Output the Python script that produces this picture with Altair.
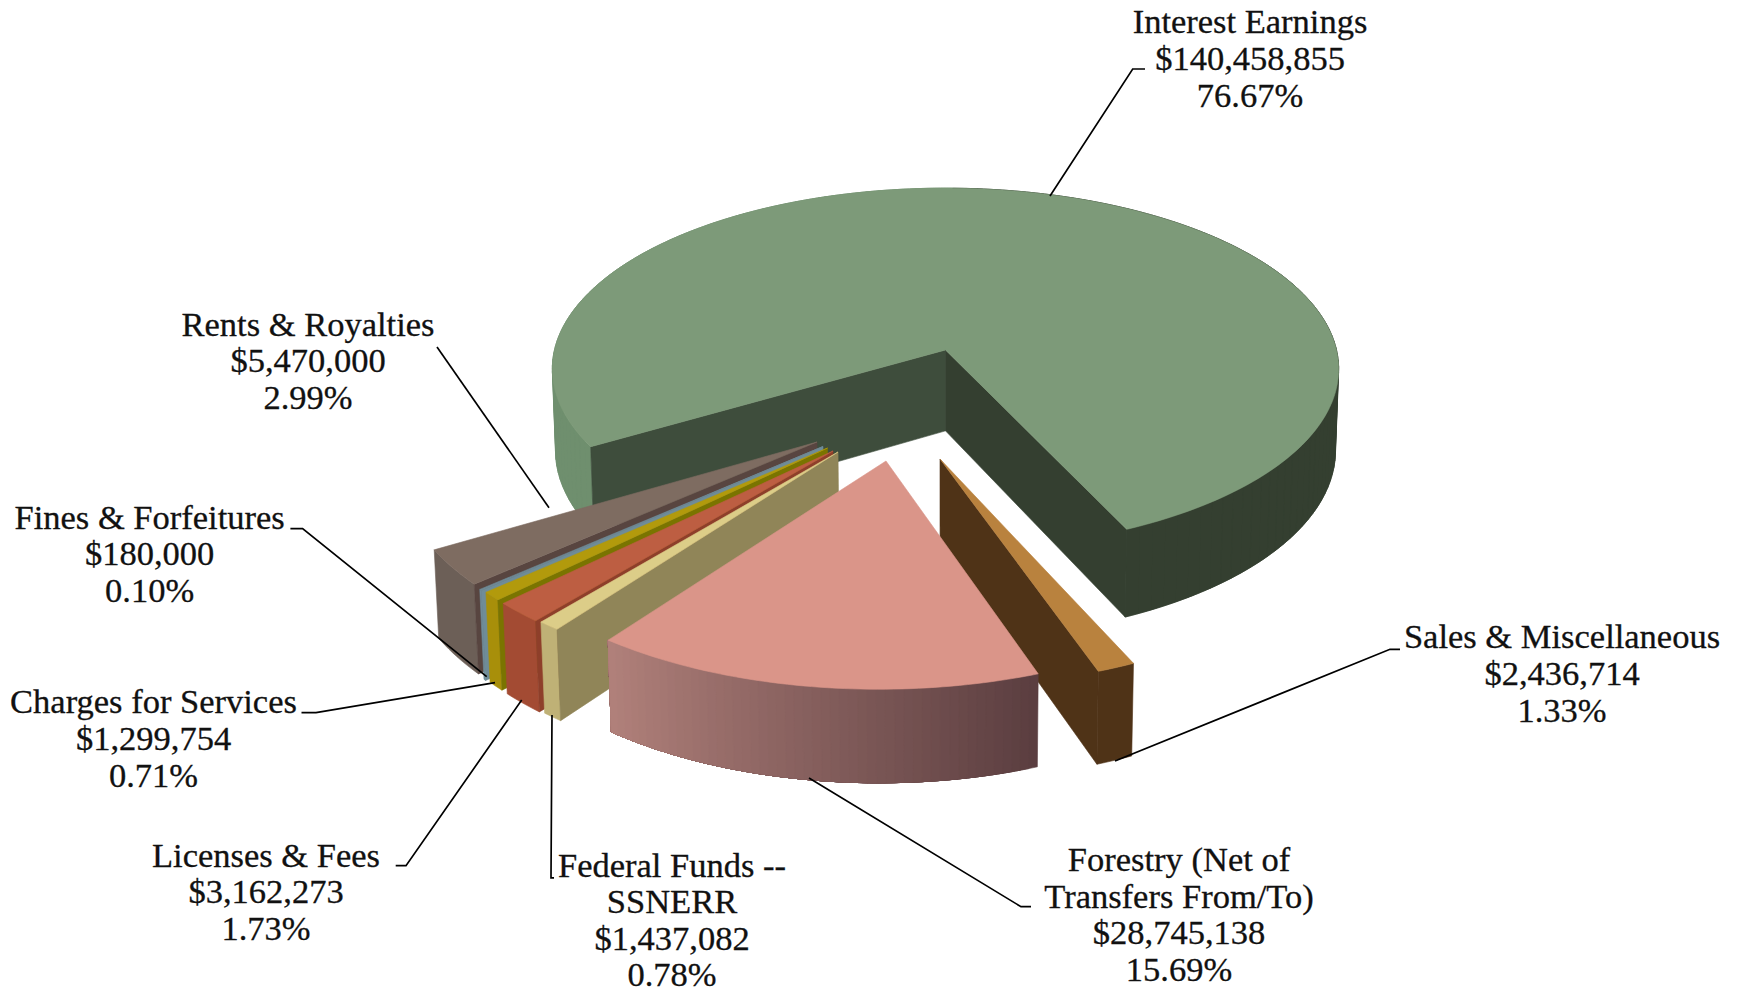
import math
import altair as alt

# ---- data ----
names = ["Interest Earnings", "Sales & Miscellaneous", "Forestry (Net of|Transfers From/To)",
         "Federal Funds --|SSNERR", "Licenses & Fees", "Charges for Services",
         "Fines & Forfeitures", "Rents & Royalties"]
amounts = [140458855, 2436714, 28745138, 1437082, 3162273, 1299754, 180000, 5470000]
percents = [76.67, 1.33, 15.69, 0.78, 1.73, 0.71, 0.10, 2.99]

top_colors = ["#7D9A79", "#B9823E", "#DA9589", "#DCCD88", "#BD5E42", "#B29A0C", "#6F8A96", "#7E6C61"]
side_colors = ["#3E4D3C", "#4F3317", "#6B4A48", "#908558", "#8E3F2A", "#7A7400", "#6F8C98", "#584540"]
outer_colors = ["#343F30", "#4F3317", "#8C6560", "#BFB176", "#A34B33", "#A88F0A", "#6F8C98", "#6C5F57"]

# where the tip of each exploded slice sits on the page
tips = [(945.5, 350), (940, 459), (886, 461), (838, 452), (833, 451), (827.5, 448), (823, 446.5), (817, 442)]
draw_order = [0, 7, 6, 5, 4, 3, 1, 2]

# label anchors: centre x and the baseline of the first line, then line pitch
label_x = [1250, 1562, 1179, 672, 266, 153.5, 149.6, 308]
label_y = [33.3, 648.3, 871, 876.6, 866.7, 713.3, 528.7, 335.7]
line_pitch = 36.6

leaders = [
    [(1145, 69), (1132.7, 69), (1050, 196)],
    [(1400, 649.3), (1390, 649.3), (1115, 761)],
    [(1031, 906.7), (1021, 906.7), (809, 778)],
    [(554, 877.8), (551, 877.8), (552, 715)],
    [(395.7, 865.7), (406, 865.7), (521.7, 700)],
    [(301.5, 712.7), (316, 712.7), (495, 682.7)],
    [(290.4, 528.7), (302.6, 528.7), (486.7, 676.7)],
    [(437, 347), (549, 507.7)],
]

# ---- perspective camera for the 3D pie ----
CX, CY, R, K, P = 945.5, 350.0, 391.0, 178.8, 0.1047
Q, H = 0.008, 81.5
END_FIRST = 24.8  # degrees from the front, where the first slice ends


def project(X, Y, Z=0.0):
    w = 1 - P * Y + Q * Z
    return [CX + R * X / w, CY + (K * Y + H * Z) / w]


def unproject(sx, sy):
    d = K + P * (sy - CY)
    return (sx - CX) * K / (R * d), (sy - CY) / d


def arc(off, a, b, Z, n):
    pts = []
    for i in range(n + 1):
        t = math.radians(a + (b - a) * i / n)
        pts.append(project(off[0] + math.sin(t), off[1] + math.cos(t), Z))
    return pts


features = []


def add(poly, color):
    ring = [list(p) for p in poly]
    ring.append(list(ring[0]))
    features.append({"type": "Feature", "properties": {"fill": color},
                     "geometry": {"type": "Polygon", "coordinates": [ring]}})


def mix(c1, c2, t):
    a = [int(c1[i:i + 2], 16) for i in (1, 3, 5)]
    b = [int(c2[i:i + 2], 16) for i in (1, 3, 5)]
    return "#%02X%02X%02X" % tuple(round(x + (y - x) * t) for x, y in zip(a, b))


# slice angles follow from the percentages, clockwise
angles = []
start = END_FIRST + percents[0] * 3.6
for pct in percents:
    angles.append((start, start - pct * 3.6))
    start -= pct * 3.6

for idx in draw_order:
    a, b = angles[idx]
    off = unproject(*tips[idx])
    steps = max(4, int(abs(a - b)))
    ta, tb = arc(off, a, b, 0, steps), arc(off, a, b, 1, steps)
    apex_t, apex_b = project(off[0], off[1], 0), project(off[0], off[1], 1)
    # rim: overlapping strips so that no seam shows
    if idx == 0:
        for i in range(0, steps, 2):
            end = min(i + 4, steps)
            col = "#6F8F6E" if a + (b - a) * i / steps > 180 else outer_colors[0]
            add(ta[i:end + 1] + tb[i:end + 1][::-1], col)
    elif idx == 2:
        bands = 50
        tg, bg = arc(off, a, b, 0, bands), arc(off, a, b, 1, bands)
        for i in range(bands):
            col = mix("#5B3E40", "#B0807A", i / (bands - 1))
            add(tg[i:] + bg[i:][::-1], col)
    else:
        add(ta + tb[::-1], outer_colors[idx])
    # cut walls, only those that face the viewer
    if -math.sin(math.radians(a)) > 0:
        add([apex_t, ta[0], tb[0], apex_b], side_colors[idx])
    if math.sin(math.radians(b)) > 0:
        add([apex_t, ta[-1], tb[-1], apex_b], side_colors[idx] if idx else outer_colors[0])
    # lid
    add([apex_t] + ta, top_colors[idx])

# ---- labels and leader lines ----
text_rows = []
for i, nm in enumerate(names):
    lines = nm.split("|") + ["${:,}".format(amounts[i]), "{:.2f}%".format(percents[i])]
    for j, ln in enumerate(lines):
        text_rows.append({"x": label_x[i], "y": label_y[i] + j * line_pitch, "t": ln})

leader_rows = []
for i, pl in enumerate(leaders):
    for j, (x, y) in enumerate(pl):
        leader_rows.append({"id": i, "o": j, "x": x, "y": y})

W, H_PAGE = 1722, 982
xs = alt.Scale(domain=[8, 8 + W], nice=False, zero=False)
ys = alt.Scale(domain=[8 + H_PAGE, 8], nice=False, zero=False)

pie = (
    alt.Chart(alt.Data(values=features))
    .mark_geoshape(strokeWidth=0.6)
    .encode(fill=alt.Fill("properties.fill:N", scale=None, legend=None),
            stroke=alt.Stroke("properties.fill:N", scale=None, legend=None))
    .project(type="identity", scale=1, translate=[-8, -8])
)
lines_layer = (
    alt.Chart(alt.Data(values=leader_rows))
    .mark_line(color="black", strokeWidth=1.7)
    .encode(x=alt.X("x:Q", scale=xs, axis=None), y=alt.Y("y:Q", scale=ys, axis=None),
            detail="id:N", order="o:Q")
)
texts = (
    alt.Chart(alt.Data(values=text_rows))
    .mark_text(font="Liberation Serif", fontSize=34.5, align="center", baseline="alphabetic",
               color="#111111", stroke="#111111", strokeWidth=0.3)
    .encode(x=alt.X("x:Q", scale=xs, axis=None), y=alt.Y("y:Q", scale=ys, axis=None), text="t:N")
)

chart = (
    alt.layer(pie, lines_layer, texts)
    .properties(width=W, height=H_PAGE, padding=0, background="white",
                autosize=alt.AutoSizeParams(type="none"))
    .configure_view(stroke=None)
)
chart.save("out.html", embed_options={"renderer": "svg", "actions": False})
